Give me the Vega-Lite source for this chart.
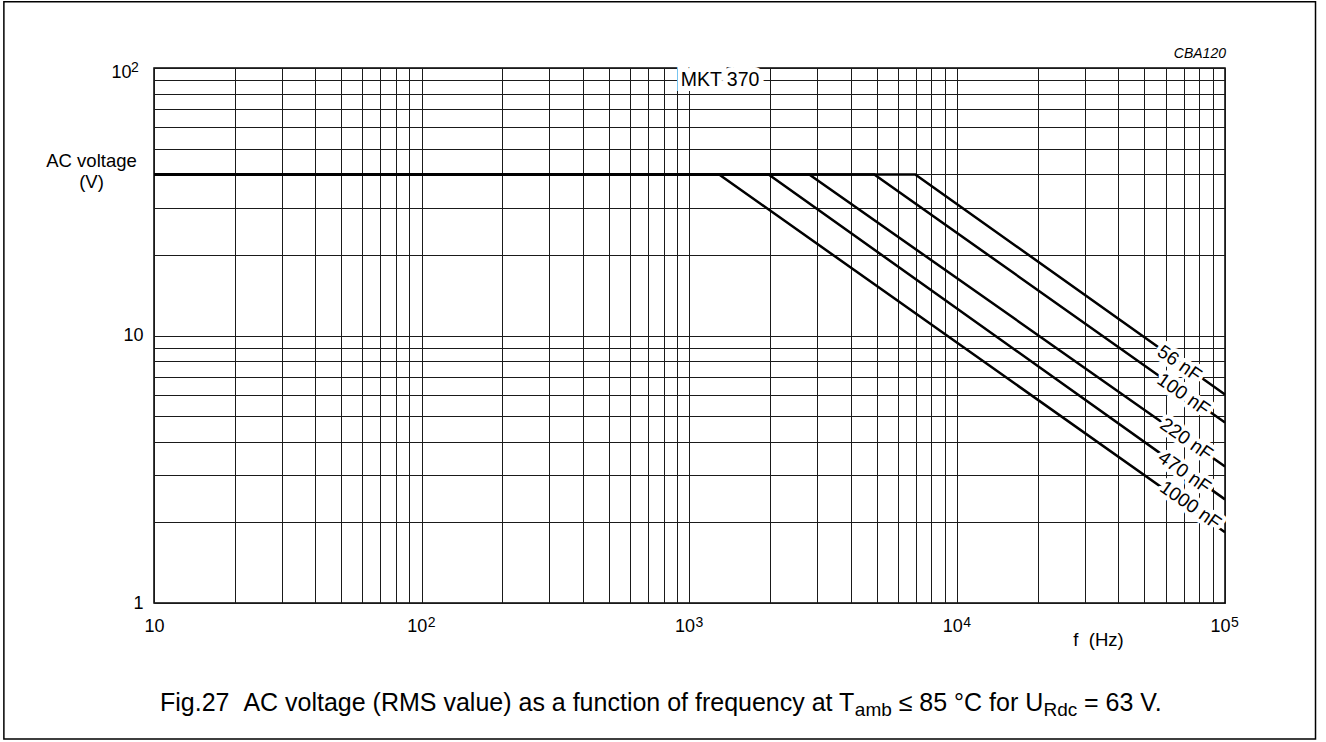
{
  "$schema": "https://vega.github.io/schema/vega-lite/v6.json",
  "width": 1071,
  "height": 535,
  "autosize": {"type": "none"},
  "padding": {"left": 154, "top": 68, "right": 101, "bottom": 139},
  "background": "white",
  "config": {
    "view": {"stroke": "#000", "strokeWidth": 1.5},
    "font": "Liberation Sans",
    "text": {"font": "Liberation Sans", "color": "#000"}
  },
  "datasets": {
    "curves": [
      {"cap": "56 nF", "f": 10, "v": 40},
      {"cap": "56 nF", "f": 6970, "v": 40},
      {"cap": "56 nF", "f": 100000, "v": 6.02},
      {"cap": "100 nF", "f": 10, "v": 40},
      {"cap": "100 nF", "f": 4900, "v": 40},
      {"cap": "100 nF", "f": 100000, "v": 4.73},
      {"cap": "220 nF", "f": 10, "v": 40},
      {"cap": "220 nF", "f": 2800, "v": 40},
      {"cap": "220 nF", "f": 100000, "v": 3.24},
      {"cap": "470 nF", "f": 10, "v": 40},
      {"cap": "470 nF", "f": 1975, "v": 40},
      {"cap": "470 nF", "f": 100000, "v": 2.44},
      {"cap": "1000 nF", "f": 10, "v": 40},
      {"cap": "1000 nF", "f": 1290, "v": 40},
      {"cap": "1000 nF", "f": 100000, "v": 1.84}
    ],
    "curveLabels": [
      {"label": "56 nF", "f": 67600, "v": 7.86},
      {"label": "100 nF", "f": 70000, "v": 6.02},
      {"label": "220 nF", "f": 71800, "v": 4.09},
      {"label": "470 nF", "f": 70600, "v": 3.08},
      {"label": "1000 nF", "f": 74300, "v": 2.32}
    ],
    "typeLabel": [
      {"label": "MKT 370", "f": 1300, "v": 90}
    ],
    "xExponents": [
      {"f": 100, "sup": "2"},
      {"f": 1000, "sup": "3"},
      {"f": 10000, "sup": "4"},
      {"f": 100000, "sup": "5"}
    ],
    "yExponents": [
      {"v": 100, "sup": "2"}
    ]
  },
  "layer": [
    {
      "data": {"name": "curves"},
      "mark": {"type": "line", "color": "#000", "strokeWidth": 2.5, "clip": true},
      "encoding": {
        "x": {
          "field": "f", "type": "quantitative",
          "scale": {"type": "log", "domain": [10, 100000], "nice": false},
          "axis": {
            "values": [10,20,30,40,50,60,70,80,90,100,200,300,400,500,600,700,800,900,1000,2000,3000,4000,5000,6000,7000,8000,9000,10000,20000,30000,40000,50000,60000,70000,80000,90000,100000],
            "labelExpr": "datum.value == 10 || datum.value == 100 || datum.value == 1000 || datum.value == 10000 || datum.value == 100000 ? '10' : ''",
            "labelOffset": {"condition": {"test": "datum.value >= 100", "value": -5}, "value": 0},
            "grid": true, "ticks": false, "domain": false,
            "labelFlush": false, "labelOverlap": false, "labelBound": false,
            "labelPadding": 14, "labelFontSize": 18, "labelColor": "#000", "labelBaseline": "top",
            "labelFont": "Liberation Sans",
            "gridColor": "#1a1a1a", "gridWidth": 1, "gridOpacity": 1,
            "title": "f\u00a0\u00a0(Hz)", "titleX": 944, "titleY": 42,
            "titleAlign": "center", "titleBaseline": "alphabetic",
            "titleFontWeight": "normal", "titleFontSize": 18.5, "titleColor": "#000",
            "titleFont": "Liberation Sans"
          }
        },
        "y": {
          "field": "v", "type": "quantitative",
          "scale": {"type": "log", "domain": [1, 100], "nice": false},
          "axis": {
            "values": [1,2,3,4,5,6,7,8,9,10,20,30,40,50,60,70,80,90,100],
            "labelExpr": "datum.value == 1 ? '1' : datum.value == 10 || datum.value == 100 ? '10' : ''",
            "labelPadding": {"condition": {"test": "datum.value == 100", "value": 23}, "value": 11},
            "labelOffset": {"condition": {"test": "datum.value == 100", "value": 4}, "value": 0},
            "grid": true, "ticks": false, "domain": false,
            "labelFlush": false, "labelOverlap": false, "labelBound": false,
            "labelFontSize": 18, "labelColor": "#000",
            "labelFont": "Liberation Sans",
            "gridColor": "#1a1a1a", "gridWidth": 1, "gridOpacity": 1,
            "title": ["AC voltage", "(V)"], "titleAngle": 0, "titleX": -63, "titleY": 98,
            "titleAlign": "center", "titleBaseline": "alphabetic", "titleLineHeight": 21,
            "titleFontWeight": "normal", "titleFontSize": 18.5, "titleColor": "#000",
            "titleFont": "Liberation Sans"
          }
        },
        "detail": {"field": "cap"}
      }
    },
    {
      "data": {"name": "xExponents"},
      "mark": {"type": "text", "fontSize": 14, "align": "left", "baseline": "alphabetic", "dx": 6, "dy": 24, "color": "#000"},
      "encoding": {
        "x": {"field": "f", "type": "quantitative"},
        "y": {"datum": 1, "type": "quantitative"},
        "text": {"field": "sup"}
      }
    },
    {
      "data": {"name": "yExponents"},
      "mark": {"type": "text", "fontSize": 14, "align": "left", "baseline": "alphabetic", "dx": -23, "dy": 4, "color": "#000"},
      "encoding": {
        "x": {"datum": 10, "type": "quantitative"},
        "y": {"field": "v", "type": "quantitative"},
        "text": {"field": "sup"}
      }
    },
    {
      "data": {"name": "curveLabels"},
      "mark": {"type": "text", "angle": 35, "fontSize": 19, "align": "center", "baseline": "middle", "fill": "#fff", "stroke": "#fff", "strokeWidth": 8, "strokeJoin": "round"},
      "encoding": {
        "x": {"field": "f", "type": "quantitative"},
        "y": {"field": "v", "type": "quantitative"},
        "text": {"field": "label"}
      }
    },
    {
      "data": {"name": "curveLabels"},
      "mark": {"type": "text", "angle": 35, "fontSize": 19, "align": "center", "baseline": "middle", "color": "#000"},
      "encoding": {
        "x": {"field": "f", "type": "quantitative"},
        "y": {"field": "v", "type": "quantitative"},
        "text": {"field": "label"}
      }
    },
    {
      "data": {"name": "typeLabel"},
      "mark": {"type": "text", "fontSize": 19.5, "align": "center", "baseline": "middle", "fill": "#fff", "stroke": "#fff", "strokeWidth": 10, "strokeJoin": "miter"},
      "encoding": {
        "x": {"field": "f", "type": "quantitative"},
        "y": {"field": "v", "type": "quantitative"},
        "text": {"field": "label"}
      }
    },
    {
      "data": {"name": "typeLabel"},
      "mark": {"type": "text", "fontSize": 19.5, "align": "center", "baseline": "middle", "color": "#000"},
      "encoding": {
        "x": {"field": "f", "type": "quantitative"},
        "y": {"field": "v", "type": "quantitative"},
        "text": {"field": "label"}
      }
    },
    {
      "data": {"values": [{}]},
      "mark": {"type": "rect", "fillOpacity": 0, "stroke": "#000", "strokeWidth": 1.5, "clip": false},
      "encoding": {
        "x": {"datum": 2.75, "type": "quantitative"},
        "x2": {"datum": 217800},
        "y": {"datum": 176.9, "type": "quantitative"},
        "y2": {"datum": 0.31}
      }
    },
    {
      "data": {"values": [{}]},
      "mark": {"type": "text", "fontSize": 14, "fontStyle": "italic", "align": "right", "baseline": "alphabetic", "color": "#000"},
      "encoding": {
        "x": {"datum": 100850, "type": "quantitative"},
        "y": {"datum": 109, "type": "quantitative"},
        "text": {"value": "CBA120"}
      }
    },
    {
      "data": {"values": [{}]},
      "mark": {"type": "text", "fontSize": 25, "align": "left", "baseline": "alphabetic", "color": "#000"},
      "encoding": {
        "x": {"datum": 10.53, "type": "quantitative"},
        "y": {"datum": 0.3947, "type": "quantitative"},
        "text": {"value": "Fig.27\u00a0\u00a0AC voltage (RMS value) as a function of frequency at T"}
      }
    },
    {
      "data": {"values": [{}]},
      "mark": {"type": "text", "fontSize": 19, "align": "left", "baseline": "alphabetic", "color": "#000"},
      "encoding": {
        "x": {"datum": 4144, "type": "quantitative"},
        "y": {"datum": 0.3781, "type": "quantitative"},
        "text": {"value": "amb"}
      }
    },
    {
      "data": {"values": [{}]},
      "mark": {"type": "text", "fontSize": 25, "align": "left", "baseline": "alphabetic", "color": "#000"},
      "encoding": {
        "x": {"datum": 6043, "type": "quantitative"},
        "y": {"datum": 0.3947, "type": "quantitative"},
        "text": {"value": "≤ 85 °C for U"}
      }
    },
    {
      "data": {"values": [{}]},
      "mark": {"type": "text", "fontSize": 19, "align": "left", "baseline": "alphabetic", "color": "#000"},
      "encoding": {
        "x": {"datum": 20980, "type": "quantitative"},
        "y": {"datum": 0.3781, "type": "quantitative"},
        "text": {"value": "Rdc"}
      }
    },
    {
      "data": {"values": [{}]},
      "mark": {"type": "text", "fontSize": 25, "align": "left", "baseline": "alphabetic", "color": "#000"},
      "encoding": {
        "x": {"datum": 29750, "type": "quantitative"},
        "y": {"datum": 0.3947, "type": "quantitative"},
        "text": {"value": "= 63 V."}
      }
    }
  ]
}
